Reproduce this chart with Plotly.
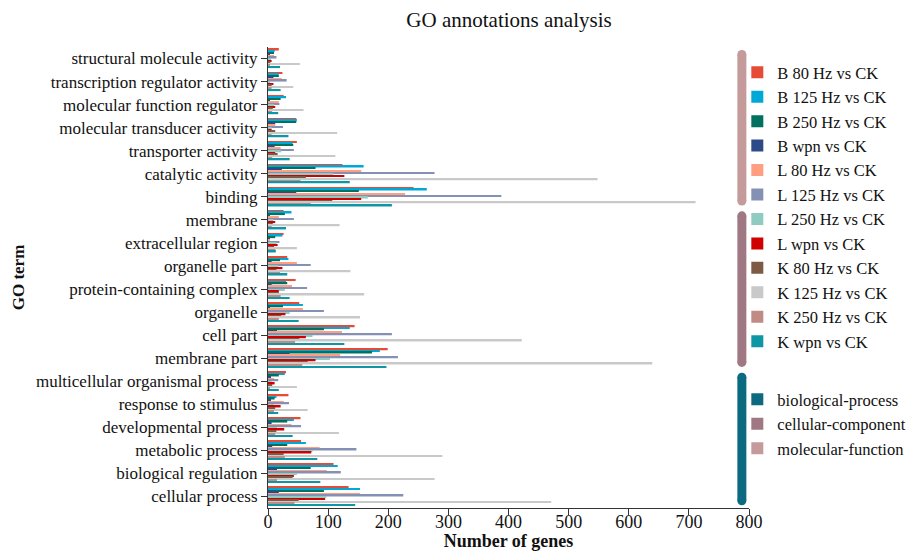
import plotly.graph_objects as go

categories = [
    "structural molecule activity", "transcription regulator activity",
    "molecular function regulator", "molecular transducer activity",
    "transporter activity", "catalytic activity", "binding",
    "membrane", "extracellular region", "organelle part",
    "protein-containing complex", "organelle", "cell part", "membrane part",
    "multicellular organismal process", "response to stimulus",
    "developmental process", "metabolic process", "biological regulation",
    "cellular process",
]

series_names = [
    "B 80 Hz vs CK", "B 125 Hz vs CK", "B 250 Hz vs CK", "B wpn vs CK",
    "L 80 Hz vs CK", "L 125 Hz vs CK", "L 250 Hz vs CK", "L wpn vs CK",
    "K 80 Hz vs CK", "K 125 Hz vs CK", "K 250 Hz vs CK", "K wpn vs CK",
]

series_colors = [
    "#E64B35", "#00A8D8", "#00705F", "#2C4A88",
    "#FF9E80", "#8491B4", "#8FCBC0", "#D00000",
    "#7C5A44", "#C9C9C9", "#C08A85", "#0F96A5",
]

# values per series, in category order (top to bottom)
b80  = [18, 24, 26, 47, 48, 124, 242, 26, 26, 32, 46, 52, 144, 199, 30, 34, 54, 55, 109, 134]
b125 = [11, 18, 30, 48, 41, 159, 264, 39, 24, 34, 30, 58, 136, 186, 28, 14, 43, 63, 116, 153]
b250 = [10, 18, 21, 47, 42, 79, 151, 28, 12, 20, 32, 25, 93, 173, 18, 11, 32, 32, 71, 93]
bwpn = [3, 9, 3, 12, 11, 23, 47, 3, 3, 6, 6, 3, 15, 36, 5, 5, 6, 7, 15, 18]
l80  = [10, 23, 18, 12, 21, 155, 228, 18, 3, 48, 40, 58, 123, 120, 10, 26, 39, 86, 98, 153]
l125 = [14, 31, 19, 25, 43, 277, 388, 43, 19, 71, 65, 93, 206, 216, 17, 35, 55, 147, 121, 225]
l250 = [5, 3, 10, 6, 22, 109, 166, 9, 14, 17, 28, 36, 74, 103, 6, 10, 15, 74, 48, 97]
lwpn = [6, 9, 12, 6, 12, 127, 155, 12, 16, 24, 18, 29, 63, 79, 11, 21, 27, 72, 43, 95]
k80  = [4, 6, 8, 12, 16, 63, 107, 8, 10, 14, 18, 22, 52, 66, 7, 12, 14, 26, 41, 51]
k125 = [53, 42, 59, 115, 112, 548, 711, 119, 48, 137, 160, 153, 422, 639, 48, 66, 118, 290, 277, 471]
k250 = [2, 6, 7, 6, 7, 54, 71, 6, 12, 20, 21, 18, 45, 57, 3, 10, 12, 28, 15, 44]
kwpn = [20, 21, 17, 34, 36, 136, 206, 30, 13, 32, 36, 51, 127, 197, 18, 17, 41, 82, 87, 145]

series_values = [b80, b125, b250, bwpn, l80, l125, l250, lwpn, k80, k125, k250, kwpn]

group_names = ["biological-process", "cellular-component", "molecular-function"]
group_colors = ["#0C6A80", "#A07884", "#C49A9A"]
# category index ranges (first, last) for each GO group
group_ranges = [(14, 19), (7, 13), (0, 6)]

FONT = "Liberation Serif, Times New Roman, serif"
TXT = "#111111"

W, H = 921, 551
ML, MR, MT, MB = 268, 10, 47, 43
PW = W - ML - MR          # paper width
PLOT_RIGHT = 759          # pixel where x axis ends
XDOM = (PLOT_RIGHT - ML) / PW
PH = H - MT - MB

fig = go.Figure()
for name, vals, col in zip(series_names, series_values, series_colors):
    fig.add_trace(go.Bar(
        x=vals, y=categories, orientation="h", name=name,
        marker=dict(color=col, line=dict(width=0)),
    ))

for name, col in zip(group_names, group_colors):
    fig.add_trace(go.Scatter(
        x=[None], y=[None], mode="markers", name=name, legend="legend2",
        marker=dict(symbol="square", size=12, color=col),
    ))

shapes = []
xa = 788
r_px = 4.5
r_idx = r_px / 23.05
for (s, e), col in zip(group_ranges, group_colors):
    y0 = s - 0.5 + 0.13
    y1 = e + 0.5 - 0.12
    shapes.append(dict(type="rect", xref="x", yref="y", xsizemode="pixel", xanchor=xa,
                       x0=-r_px, x1=r_px, y0=y0 + r_idx, y1=y1 - r_idx,
                       fillcolor=col, line=dict(width=0), layer="above"))
    for yc in (y0 + r_idx, y1 - r_idx):
        shapes.append(dict(type="circle", xref="x", yref="y", xsizemode="pixel",
                           ysizemode="pixel", xanchor=xa, yanchor=yc,
                           x0=-r_px, x1=r_px, y0=-r_px, y1=r_px,
                           fillcolor=col, line=dict(width=0), layer="above"))

fig.update_layout(
    width=W, height=H,
    margin=dict(l=ML, r=MR, t=MT, b=MB),
    paper_bgcolor="white", plot_bgcolor="white",
    font=dict(family=FONT, size=17, color=TXT),
    title=dict(text="GO annotations analysis", x=509 / W, xanchor="center", xref="container",
               y=1 - 20 / H, yanchor="middle", yref="container",
               font=dict(family=FONT, size=21, color=TXT)),
    barmode="group", bargap=0.17, bargroupgap=0,
    shapes=shapes,
    showlegend=True,
    legend=dict(x=(747 - ML) / PW, xanchor="left", y=1 - (55 - MT) / PH, yanchor="top",
                font=dict(family=FONT, size=16.5, color=TXT),
                bgcolor="rgba(0,0,0,0)", tracegroupgap=0, itemclick=False),
    legend2=dict(x=(747 - ML) / PW, xanchor="left", y=1 - (382 - MT) / PH, yanchor="top",
                 font=dict(family=FONT, size=16.5, color=TXT),
                 bgcolor="rgba(0,0,0,0)", itemclick=False),
)

fig.update_xaxes(
    domain=[0, XDOM], automargin=False,
    range=[0, 800], dtick=100, tick0=0, showgrid=False, zeroline=False,
    showline=True, linecolor="#333333", linewidth=1.2,
    ticks="outside", ticklen=6, tickcolor="#333333", ticklabelstandoff=-9,
    tickfont=dict(family=FONT, size=18, color=TXT),
    title=dict(text="<b>Number of genes</b>", font=dict(family=FONT, size=18, color=TXT)),
)
fig.update_yaxes(
    automargin=True,
    categoryorder="array", categoryarray=categories, autorange="reversed",
    showgrid=False, zeroline=False,
    showline=True, linecolor="#333333", linewidth=1.2,
    ticks="outside", ticklen=6, tickcolor="#333333",
    tickfont=dict(family=FONT, size=17, color=TXT),
    title=dict(text="<b>GO term</b>", font=dict(family=FONT, size=17, color=TXT), standoff=6),
)

fig.write_html("out.html")
